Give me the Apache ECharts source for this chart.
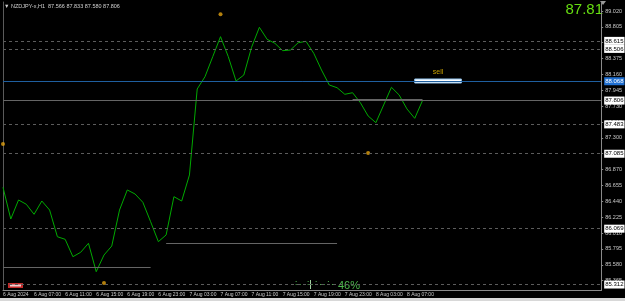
<!DOCTYPE html>
<html>
<head>
<meta charset="utf-8">
<script src="https://cdn.jsdelivr.net/npm/echarts@6/dist/echarts.min.js"></script>
<style>
  html, body { margin: 0; padding: 0; background: #000; }
  #chart { width: 625px; height: 301px; }
</style>
</head>
<body>
<div id="chart"></div>
<script type="text/javascript">
    // NZDJPY H1 closes, from 6 Aug 03:00
    var closes = [86.630, 86.200, 86.458, 86.400, 86.264, 86.444, 86.322, 85.960, 85.925, 85.689,
                  85.749, 85.871, 85.486, 85.712, 85.834, 86.322, 86.594, 86.539, 86.427, 86.164,
                  85.893, 85.984, 86.503, 86.444, 86.797, 87.963, 88.129, 88.401, 88.672, 88.401,
                  88.071, 88.152, 88.528, 88.799, 88.636, 88.582, 88.482, 88.491, 88.590, 88.609,
                  88.447, 88.220, 88.017, 87.980, 87.891, 87.912, 87.777, 87.597, 87.506, 87.746,
                  87.986, 87.881, 87.692, 87.565, 87.806];
    var barCount = 78;
    var dayStart = 6, hourStart = 3;
    var yTicks = [89.020, 88.805, 88.590, 88.375, 88.160, 87.945, 87.730, 87.515, 87.300,
                  87.085, 86.870, 86.655, 86.440, 86.225, 86.010, 85.795, 85.580, 85.365];
    var dashedLevels = [88.615, 88.506, 87.483, 87.085, 86.069, 85.312];
    var solidLevels = [87.806];
    var bidLevel = 88.068;
    // [from bar, to bar, price]
    var segments = [[0, 19, 85.546], [21, 43, 85.871], [45, 54, 87.823]];
    // [bar, price]
    var dots = [[0, 87.217], [13, 85.333], [28, 88.975], [47, 87.095]];
    var sellBox = [53, 59, 88.098, 88.044];

    var xCats = [];
    for (var i = 0; i < barCount; i++) {
        var h = hourStart + i;
        var d = dayStart + Math.floor(h / 24);
        var hh = h % 24;
        xCats.push(d + ' Aug ' + (hh < 10 ? '0' : '') + hh + ':00');
    }

    var font = 'Liberation Sans';
    var boxLabel = function (bg, fg) {
        return {
            show: true, position: 'end', distance: 3,
            formatter: function (p) { return Number(p.value).toFixed(3); },
            backgroundColor: bg, color: fg, fontSize: 6, fontFamily: font,
            padding: [1, 1, 0, 1], lineHeight: 7
        };
    };

    var levelData = [];
    dashedLevels.forEach(function (v) {
        levelData.push({ yAxis: v, lineStyle: { color: '#5c5c5c', type: [3, 3], width: 1 }, label: boxLabel('#ffffff', '#000') });
    });
    solidLevels.forEach(function (v) {
        levelData.push({ yAxis: v, lineStyle: { color: '#656565', type: 'solid', width: 1 }, label: boxLabel('#ffffff', '#000') });
    });
    levelData.push({ yAxis: bidLevel, lineStyle: { color: '#1f5f9f', type: 'solid', width: 1 }, label: boxLabel('#1f6fd1', '#fff') });
    segments.forEach(function (s) {
        levelData.push([
            { coord: [s[0], s[2]], lineStyle: { color: '#656565', type: 'solid', width: 1 }, label: { show: false } },
            { coord: [s[1], s[2]] }
        ]);
    });

    var chart = echarts.init(document.getElementById('chart'));
    chart.setOption({
        backgroundColor: '#000',
        animation: false,
        grid: { left: 3, right: 22, top: 2, bottom: 10.5 },
        xAxis: {
            type: 'category',
            data: xCats,
            boundaryGap: false,
            axisLine: { lineStyle: { color: '#8a8a8a' } },
            axisTick: { show: false },
            axisLabel: {
                interval: function (idx) { return idx % 4 === 0 && idx <= 52; },
                formatter: function (v, idx) { return idx === 0 ? '6 Aug 2024' : v; },
                align: 'left', margin: 2, fontSize: 5, fontFamily: font, color: '#c8c8c8',
                hideOverlap: false
            },
            splitLine: { show: false }
        },
        yAxis: [{
            type: 'value',
            position: 'right',
            min: 85.231,
            max: 89.142,
            axisLine: { show: true, lineStyle: { color: '#8a8a8a' } },
            axisTick: { show: true, length: 2, customValues: yTicks, lineStyle: { color: '#8a8a8a' } },
            axisLabel: {
                customValues: yTicks,
                formatter: function (v) { return v.toFixed(3); },
                margin: 4, fontSize: 5.5, fontFamily: font, color: '#c8c8c8'
            },
            splitLine: { show: false }
        }, {
            type: 'value',
            position: 'left',
            min: 85.231,
            max: 89.142,
            axisLine: { show: true, lineStyle: { color: '#5a5a5a' } },
            axisTick: { show: false },
            axisLabel: { show: false },
            splitLine: { show: false }
        }],
        series: [
            {
                type: 'line',
                data: closes,
                symbol: 'none',
                lineStyle: { color: '#00aa00', width: 1 },
                markLine: {
                    silent: true,
                    precision: 3,
                    symbol: ['none', 'none'],
                    data: levelData
                },
                markArea: {
                    silent: true,
                    itemStyle: { color: '#ffffff', borderColor: '#8ec2ee', borderWidth: 1 },
                    label: { show: true, position: 'top', distance: 3, color: '#c8a000', fontSize: 7, fontFamily: font },
                    data: [[{ name: 'sell', coord: [sellBox[0], sellBox[2]] }, { coord: [sellBox[1], sellBox[3]] }]]
                }
            },
            {
                type: 'scatter',
                data: dots,
                symbolSize: 4,
                itemStyle: { color: '#e0a010' }
            }
        ],
        graphic: [
            { type: 'text', left: 4, top: 3, style: { text: '\u25BC NZDJPY-x,H1  87.566 87.833 87.580 87.806', fill: '#d0d0d0', font: '5.5px Liberation Sans' } },
            { type: 'text', right: 22, top: 2, style: { text: '87.81', fill: '#66dd11', font: '15px Liberation Sans' } },
            { type: 'polygon', shape: { points: [[600, 1], [606, 1], [603, 5]] }, style: { fill: '#9a9a9a' } },
            { type: 'text', left: 338, top: 280, style: { text: '46%', fill: '#4cb84c', font: '11px Liberation Sans' } },
            { type: 'text', left: 291, top: 280, style: { text: '. : . . : . : . . : .', fill: '#4caa4c', font: 'bold 7px Liberation Sans' } },
            { type: 'line', shape: { x1: 310.5, y1: 280, x2: 310.5, y2: 289 }, style: { stroke: '#9fd09f', lineWidth: 1 } },
            { type: 'rect', shape: { x: 8, y: 283, width: 15, height: 5 }, style: { fill: '#c42a2a' } },
            { type: 'rect', shape: { x: 10, y: 284.5, width: 11, height: 2 }, style: { fill: '#f0d0d0' } },
            { type: 'rect', shape: { x: 0, y: 298, width: 625, height: 3 }, style: { fill: '#d8d8d8' } }
        ]
    });
</script>
</body>
</html>
